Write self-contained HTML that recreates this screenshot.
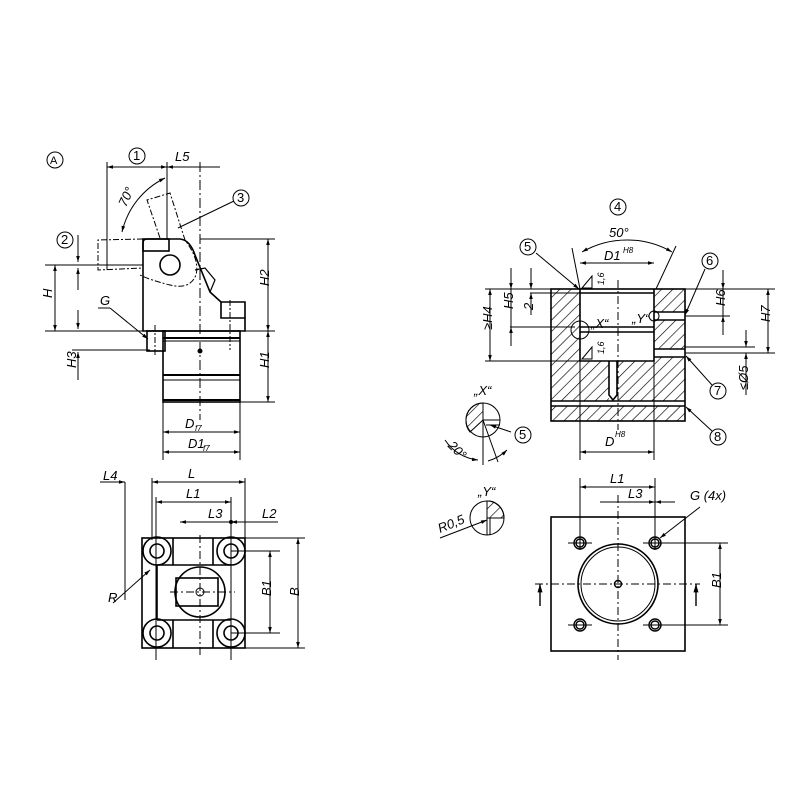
<!DOCTYPE html>
<html><head><meta charset="utf-8"><style>
html,body{margin:0;padding:0;background:#fff}
svg{display:block}
text{font-family:"Liberation Sans",sans-serif;font-style:italic;font-size:13px;fill:#000;stroke:none}
.c{font-style:normal}
</style></head><body>
<svg width="800" height="800" viewBox="0 0 800 800" xmlns="http://www.w3.org/2000/svg">
<defs>
<pattern id="h" width="8" height="8" patternUnits="userSpaceOnUse" patternTransform="rotate(45)">
<line x1="0" y1="0" x2="0" y2="8" stroke="#000" stroke-width="1.3"/></pattern>
<marker id="a" viewBox="0 0 10 10" refX="10" refY="5" markerWidth="8" markerHeight="6" orient="auto-start-reverse"><path d="M0,2L10,5L0,8z" fill="#000"/></marker>
</defs>
<g fill="none" stroke="#000" stroke-width="1">
<circle cx="55" cy="160" r="8"/><text x="50" y="164" class="c" style="font-size:11px">A</text>
<circle cx="137" cy="156" r="8"/><text x="133" y="160" class="c">1</text>
<text x="175" y="161">L5</text>
<circle cx="241" cy="198" r="8"/><text x="237" y="202" class="c">3</text>
<circle cx="65" cy="240" r="8"/><text x="61" y="244" class="c">2</text>
<line x1="107" y1="167" x2="167" y2="167" marker-start="url(#a)" marker-end="url(#a)"/>
<line x1="167" y1="167" x2="220" y2="167" marker-start="url(#a)"/>
<line x1="107" y1="162" x2="107" y2="270"/>
<line x1="200" y1="162" x2="200" y2="420" stroke-dasharray="10,3,2,3"/>
<line x1="167" y1="162" x2="167" y2="240"/>
<path d="M165,178 A80,80 0 0,0 122,232" marker-start="url(#a)" marker-end="url(#a)"/>
<text x="118" y="205" transform="rotate(-65 124 200)">70°</text>
<line x1="178" y1="228" x2="234" y2="201"/>
<path d="M143,331 L143,243 Q143,239 147,239 L180,239 Q190,240 195,255 L210,292 L221,302 L221,318 L245,318 L245,331 Z" stroke-width="1.6"/>
<path d="M221,302 L245,302 L245,318" stroke-width="1.6"/>
<rect x="143" y="239" width="26" height="12" stroke-width="1.6"/>
<circle cx="170" cy="265" r="10" stroke-width="1.6"/>
<path d="M195,270 L205,268 L215,280 L210,292" stroke-width="1.2"/>
<path d="M160,238 L147,200 L170,193 L185,240 Q200,260 196,275 Q190,290 170,285 Q150,280 140,275" stroke-dasharray="6,2,2,2"/>
<path d="M143,239 L98,240 L98,270 L143,268" stroke-dasharray="6,2,2,2"/>
<rect x="147" y="331" width="18" height="20" stroke-width="1.6"/>
<rect x="163" y="331" width="77" height="71" stroke-width="1.6"/>
<line x1="163" y1="338" x2="240" y2="338" stroke-width="2"/>
<line x1="163" y1="341" x2="240" y2="341"/>
<line x1="163" y1="375" x2="240" y2="375" stroke-width="2"/>
<line x1="163" y1="380" x2="240" y2="380"/>
<line x1="163" y1="400" x2="240" y2="400" stroke-width="2"/>
<circle cx="200" cy="351" r="2" fill="#000"/>
<line x1="155" y1="325" x2="155" y2="355" stroke-dasharray="6,2,2,2"/>
<line x1="230" y1="300" x2="230" y2="350" stroke-dasharray="6,2,2,2"/>
<line x1="45" y1="265" x2="143" y2="265"/>
<line x1="45" y1="331" x2="275" y2="331"/>
<line x1="72" y1="350" x2="150" y2="350"/>
<line x1="55" y1="265" x2="55" y2="331" marker-start="url(#a)" marker-end="url(#a)"/>
<text x="48" y="302" transform="rotate(-90 48 298)">H</text>
<line x1="78" y1="235" x2="78" y2="262" marker-end="url(#a)"/>
<line x1="78" y1="268" x2="78" y2="290" marker-start="url(#a)"/>
<line x1="78" y1="310" x2="78" y2="329" marker-end="url(#a)"/>
<line x1="78" y1="352" x2="78" y2="380" marker-start="url(#a)"/>
<text x="72" y="372" transform="rotate(-90 72 368)">H3</text>
<text x="100" y="305">G</text>
<line x1="98" y1="308" x2="110" y2="308"/>
<line x1="110" y1="308" x2="148" y2="339" marker-end="url(#a)"/>
<line x1="200" y1="239" x2="275" y2="239"/>
<line x1="240" y1="402" x2="275" y2="402"/>
<line x1="268" y1="239" x2="268" y2="331" marker-start="url(#a)" marker-end="url(#a)"/>
<line x1="268" y1="331" x2="268" y2="402" marker-start="url(#a)" marker-end="url(#a)"/>
<text x="265" y="290" transform="rotate(-90 265 286)">H2</text>
<text x="265" y="372" transform="rotate(-90 265 368)">H1</text>
<line x1="163" y1="402" x2="163" y2="460"/>
<line x1="240" y1="402" x2="240" y2="460"/>
<line x1="163" y1="432" x2="240" y2="432" marker-start="url(#a)" marker-end="url(#a)"/>
<line x1="163" y1="452" x2="240" y2="452" marker-start="url(#a)" marker-end="url(#a)"/>
<rect x="142" y="538" width="103" height="110" stroke-width="1.6"/>
<line x1="125" y1="482" x2="125" y2="600"/>
<line x1="152" y1="478" x2="152" y2="540"/>
<line x1="245" y1="478" x2="245" y2="540"/>
<line x1="156" y1="497" x2="156" y2="660"/>
<line x1="231" y1="497" x2="231" y2="660"/>
<line x1="100" y1="482" x2="125" y2="482" marker-end="url(#a)"/>
<line x1="152" y1="482" x2="245" y2="482" marker-start="url(#a)" marker-end="url(#a)"/>
<line x1="156" y1="502" x2="231" y2="502" marker-start="url(#a)" marker-end="url(#a)"/>
<line x1="180" y1="522" x2="231" y2="522" marker-start="url(#a)"/>
<line x1="231" y1="522" x2="278" y2="522" marker-start="url(#a)"/>
<circle cx="231" cy="522" r="1.5" fill="#000"/>
<line x1="245" y1="538" x2="305" y2="538"/>
<line x1="245" y1="648" x2="305" y2="648"/>
<line x1="231" y1="551" x2="280" y2="551"/>
<line x1="231" y1="633" x2="280" y2="633"/>
<line x1="298" y1="538" x2="298" y2="648" marker-start="url(#a)" marker-end="url(#a)"/>
<line x1="270" y1="551" x2="270" y2="633" marker-start="url(#a)" marker-end="url(#a)"/>
<g stroke-width="1.6">
<circle cx="157" cy="551" r="14"/><circle cx="157" cy="551" r="7"/>
<circle cx="231" cy="551" r="14"/><circle cx="231" cy="551" r="7"/>
<circle cx="157" cy="633" r="14"/><circle cx="157" cy="633" r="7"/>
<circle cx="231" cy="633" r="14"/><circle cx="231" cy="633" r="7"/>
<circle cx="200" cy="592" r="25"/>
<rect x="176" y="578" width="42" height="28"/>
<line x1="173" y1="538" x2="173" y2="565"/><line x1="173" y1="620" x2="173" y2="648"/>
<line x1="213" y1="538" x2="213" y2="565"/><line x1="213" y1="620" x2="213" y2="648"/>
<line x1="157" y1="565" x2="231" y2="565"/><line x1="157" y1="620" x2="231" y2="620"/>
<line x1="157" y1="565" x2="157" y2="620"/>
</g>
<circle cx="200" cy="592" r="4"/>
<line x1="200" y1="535" x2="200" y2="655" stroke-dasharray="8,3,2,3"/>
<line x1="170" y1="592" x2="235" y2="592" stroke-dasharray="8,3,2,3"/>
<line x1="113" y1="603" x2="150" y2="570" marker-end="url(#a)"/>
<circle cx="618" cy="207" r="8"/><text x="614" y="211" class="c">4</text>
<path d="M582,252 A90,90 0 0,1 672,252" marker-start="url(#a)" marker-end="url(#a)"/>
<line x1="572" y1="248" x2="580" y2="289"/><line x1="676" y1="246" x2="656" y2="289"/>
<circle cx="528" cy="247" r="8"/><text x="524" y="251" class="c">5</text>
<line x1="536" y1="253" x2="579" y2="289" marker-end="url(#a)"/>
<circle cx="710" cy="261" r="8"/><text x="706" y="265" class="c">6</text>
<line x1="705" y1="269" x2="685" y2="315" marker-end="url(#a)"/>
<circle cx="718" cy="391" r="8"/><text x="714" y="395" class="c">7</text>
<line x1="712" y1="385" x2="686" y2="356" marker-end="url(#a)"/>
<circle cx="718" cy="437" r="8"/><text x="714" y="441" class="c">8</text>
<line x1="712" y1="431" x2="686" y2="407" marker-end="url(#a)"/>
<path d="M551,289 L580,289 L580,361 L654,361 L654,289 L685,289 L685,421 L551,421 Z" fill="url(#h)" stroke="none"/>
<rect x="609" y="361" width="8" height="38" fill="#fff" stroke="none"/>
<rect x="551" y="401" width="134" height="5" fill="#fff" stroke="none"/>
<rect x="654" y="312" width="31" height="8" fill="#fff" stroke="none"/>
<rect x="654" y="349" width="31" height="8" fill="#fff" stroke="none"/>
<g stroke-width="1.6">
<rect x="551" y="289" width="134" height="132"/>
<path d="M580,289 L580,361 L654,361 L654,289"/>
<line x1="580" y1="293" x2="654" y2="293"/>
<line x1="580" y1="327" x2="654" y2="327"/>
<line x1="580" y1="332" x2="654" y2="332"/>
<path d="M609,361 L609,395 L613,400 L617,395 L617,361"/>
<line x1="551" y1="401" x2="685" y2="401"/><line x1="551" y1="406" x2="685" y2="406"/>
<line x1="654" y1="312" x2="685" y2="312"/><line x1="654" y1="320" x2="685" y2="320"/>
<line x1="654" y1="349" x2="685" y2="349"/><line x1="654" y1="357" x2="685" y2="357"/>
</g>
<line x1="618" y1="280" x2="618" y2="430" stroke-dasharray="8,3,2,3"/>
<line x1="685" y1="353" x2="755" y2="353"/><line x1="685" y1="347" x2="755" y2="347"/>
<circle cx="580" cy="330" r="9"/><circle cx="654" cy="316" r="5"/>
<text x="591" y="328">„X“</text><text x="632" y="323">„Y“</text>
<text x="604" y="260">D1</text><text x="623" y="253" style="font-size:8px">H8</text>
<line x1="580" y1="263" x2="654" y2="263" marker-start="url(#a)" marker-end="url(#a)"/>
<text x="609" y="237">50°</text>
<path d="M582,288 L592,276 L592,288Z"/><text x="600" y="289" transform="rotate(-90 600 285)" style="font-size:9px">1,6</text>
<path d="M582,359 L592,347 L592,359Z"/><text x="600" y="358" transform="rotate(-90 600 354)" style="font-size:9px">1,6</text>
<line x1="485" y1="289" x2="551" y2="289"/>
<line x1="530" y1="293" x2="580" y2="293"/>
<line x1="510" y1="327" x2="575" y2="327"/>
<line x1="485" y1="361" x2="580" y2="361"/>
<line x1="490" y1="289" x2="490" y2="361" marker-start="url(#a)" marker-end="url(#a)"/>
<line x1="511" y1="268" x2="511" y2="289" marker-end="url(#a)"/>
<line x1="511" y1="289" x2="511" y2="327"/>
<line x1="511" y1="327" x2="511" y2="346" marker-start="url(#a)"/>
<line x1="531" y1="268" x2="531" y2="289" marker-end="url(#a)"/>
<line x1="531" y1="293" x2="531" y2="315" marker-start="url(#a)"/>
<text x="488" y="334" transform="rotate(-90 488 330)">≥H4</text>
<text x="509" y="313" transform="rotate(-90 509 309)">H5</text>
<text x="529" y="314" transform="rotate(-90 529 310)">2</text>
<line x1="685" y1="289" x2="775" y2="289"/>
<line x1="685" y1="316" x2="730" y2="316"/>
<line x1="730" y1="353" x2="775" y2="353"/>
<line x1="723" y1="270" x2="723" y2="289" marker-end="url(#a)"/>
<line x1="723" y1="289" x2="723" y2="316"/>
<line x1="723" y1="316" x2="723" y2="335" marker-start="url(#a)"/>
<line x1="768" y1="289" x2="768" y2="353" marker-start="url(#a)" marker-end="url(#a)"/>
<line x1="746" y1="330" x2="746" y2="347" marker-end="url(#a)"/>
<line x1="746" y1="353" x2="746" y2="395" marker-start="url(#a)"/>
<text x="721" y="310" transform="rotate(-90 721 306)">H6</text>
<text x="766" y="326" transform="rotate(-90 766 322)">H7</text>
<text x="744" y="394" transform="rotate(-90 744 390)">≤Ø5</text>
<line x1="580" y1="361" x2="580" y2="460"/><line x1="654" y1="361" x2="654" y2="460"/>
<line x1="580" y1="452" x2="654" y2="452" marker-start="url(#a)" marker-end="url(#a)"/>
<text x="605" y="446">D</text><text x="615" y="437" style="font-size:8px">H8</text>
<text x="474" y="395">„X“</text>
<circle cx="483" cy="420" r="17"/>
<path d="M483,403 L483,420 L470,432 A17,17 0 0,1 466,420 A17,17 0 0,1 483,403Z" fill="url(#h)"/>
<line x1="483" y1="420" x2="500" y2="420"/><line x1="486" y1="425" x2="500" y2="425"/>
<line x1="483" y1="403" x2="483" y2="465"/><line x1="483" y1="420" x2="498" y2="462"/>
<line x1="511" y1="432" x2="490" y2="425" marker-end="url(#a)"/>
<circle cx="523" cy="435" r="8"/><text x="519" y="439" class="c">5</text>
<path d="M445,440 A45,45 0 0,0 478,460" marker-end="url(#a)"/>
<path d="M488,461 A45,45 0 0,0 507,450" marker-end="url(#a)"/>
<text x="449" y="452" transform="rotate(45 455 447)">20°</text>
<text x="478" y="496">„Y“</text>
<circle cx="487" cy="518" r="17"/>
<path d="M487,518 L504,518 A17,17 0 0,0 490,501 L487,501Z" fill="url(#h)"/>
<line x1="487" y1="501" x2="487" y2="535"/><line x1="490" y1="518" x2="490" y2="535"/>
<line x1="490" y1="518" x2="504" y2="518"/>
<line x1="440" y1="538" x2="487" y2="520" marker-end="url(#a)"/>
<text x="440" y="533" transform="rotate(-22 440 533)">R0,5</text>
<rect x="551" y="517" width="134" height="134" stroke-width="1.6"/>
<circle cx="618" cy="584" r="40" stroke-width="1.6"/><circle cx="618" cy="584" r="37"/>
<circle cx="618" cy="584" r="3.5" stroke-width="1.4"/>
<g stroke-width="1.4">
<circle cx="580" cy="543" r="6"/><circle cx="580" cy="543" r="4"/>
<circle cx="655" cy="543" r="6"/><circle cx="655" cy="543" r="4"/>
<circle cx="580" cy="625" r="6"/><circle cx="580" cy="625" r="4"/>
<circle cx="655" cy="625" r="6"/><circle cx="655" cy="625" r="4"/>
</g>
<line x1="618" y1="495" x2="618" y2="660" stroke-dasharray="8,3,2,3"/>
<line x1="535" y1="584" x2="700" y2="584" stroke-dasharray="8,3,2,3"/>
<line x1="568" y1="543" x2="592" y2="543"/><line x1="643" y1="543" x2="667" y2="543"/>
<line x1="568" y1="625" x2="592" y2="625"/><line x1="643" y1="625" x2="667" y2="625"/>
<line x1="580" y1="478" x2="580" y2="550"/><line x1="655" y1="478" x2="655" y2="550"/>
<line x1="580" y1="487" x2="655" y2="487" marker-start="url(#a)" marker-end="url(#a)"/>
<line x1="600" y1="502" x2="655" y2="502" marker-end="url(#a)"/>
<line x1="655" y1="502" x2="675" y2="502" marker-start="url(#a)"/>
<line x1="655" y1="543" x2="728" y2="543"/><line x1="655" y1="625" x2="728" y2="625"/>
<line x1="720" y1="543" x2="720" y2="625" marker-start="url(#a)" marker-end="url(#a)"/>
<line x1="540" y1="584" x2="540" y2="606" marker-start="url(#a)" stroke-width="1.4"/>
<line x1="696" y1="584" x2="696" y2="606" marker-start="url(#a)" stroke-width="1.4"/>
<line x1="700" y1="507" x2="660" y2="538" marker-end="url(#a)"/>
</g>
<text x="185" y="428">D</text><text x="195" y="431" style="font-size:8px">f7</text>
<text x="188" y="448">D1</text><text x="203" y="451" style="font-size:8px">f7</text>
<text x="103" y="480">L4</text><text x="188" y="478">L</text>
<text x="186" y="498">L1</text><text x="208" y="518">L3</text>
<text x="262" y="518">L2</text>
<text x="108" y="602">R</text>
<text x="267" y="600" transform="rotate(-90 267 596)">B1</text>
<text x="295" y="600" transform="rotate(-90 295 596)">B</text>
<text x="610" y="483">L1</text><text x="628" y="498">L3</text>
<text x="690" y="500">G (4x)</text>
<text x="717" y="592" transform="rotate(-90 717 588)">B1</text>
</svg>
</body></html>
